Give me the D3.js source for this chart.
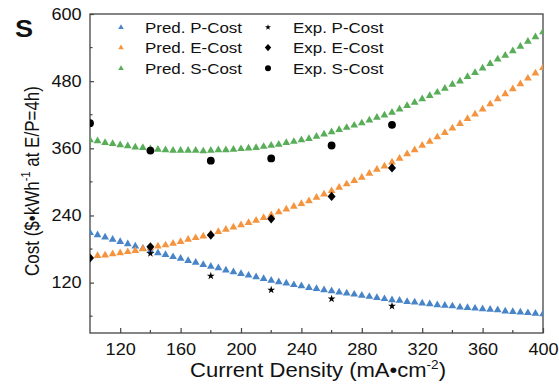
<!DOCTYPE html>
<html>
<head>
<meta charset="utf-8">
<script src="https://cdn.jsdelivr.net/npm/d3@7"></script>
<style>
  body { margin: 0; background: #fff; }
  text { font-family: "Liberation Sans", Arial, sans-serif; fill: #111; }
</style>
</head>
<body>
<div id="chart"></div>
<script>
// current density grid of the predicted curves (mA/cm2)
const density = [100,105,110,115,120,125,130,135,140,145,150,155,160,165,170,175,180,185,190,195,
  200,205,210,215,220,225,230,235,240,245,250,255,260,265,270,275,280,285,290,295,
  300,305,310,315,320,325,330,335,340,345,350,355,360,365,370,375,380,385,390,395,400];

const predP = [209,205,201,197,193,189,185,181,177,173,170,166,163,159,156,152,149,146,142,139,
  136,133,130,127,124,121,119,116,114,111,109,107,105,103,101,99,97,95,93,91,
  89,88,86,85,83,82,80,79,78,76,75,74,73,72,71,69,68,67,66,65,64];
const predE = [166,168,169,171,173,175,177,180,182,185,187,190,193,197,200,203,207,211,215,219,
  223,227,231,236,241,246,251,256,261,266,272,278,284,290,296,302,308,315,322,328,
  335,342,350,357,365,372,380,388,396,404,413,421,430,439,448,457,466,475,485,494,504];
const predS = [375,373,370,368,366,364,362,361,359,358,357,356,356,356,356,355,356,357,357,358,
  359,360,361,363,365,367,370,372,375,377,381,385,389,393,397,401,405,410,415,419,
  424,430,436,442,448,454,460,467,474,480,488,495,503,511,519,526,534,542,551,559,568];

const expDensity = [100,140,180,220,260,300];
const expP = [null,172,132,107,91,78];
const expE = [164,184,205,234,274,325];
const expS = [405,356,338,342,365,402];

const xMajor = [120,160,200,240,280,320,360,400];
const xMinor = [140,180,220,260,300,340,380];
const yMajor = [120,240,360,480,600];
const yMinor = [60,180,300,420,540];

const predNames = ["Pred. P-Cost","Pred. E-Cost","Pred. S-Cost"];
const expNames = ["Exp. P-Cost","Exp. E-Cost","Exp. S-Cost"];
const colors = ["#4884c8","#f5943e","#58ad58"];

const W = 559, H = 385, STRETCH = 1.13;
const plot = {left: 90, right: 543, top: 14, bottom: 333};

const svg = d3.select("#chart").append("svg")
    .attr("width", W).attr("height", H);

const x = d3.scaleLinear().domain([100, 400]).range([plot.left, plot.right]);
const y = d3.scaleLinear().domain([30, 600]).range([plot.bottom, plot.top]);

svg.append("clipPath").attr("id", "clip")
  .append("rect")
    .attr("x", plot.left).attr("y", plot.top)
    .attr("width", plot.right - plot.left).attr("height", plot.bottom - plot.top);

// axes (ticks point inward)
const xAxis = svg.append("g")
    .attr("transform", `translate(0,${plot.bottom})`)
    .call(d3.axisBottom(x).tickValues(xMajor).tickSize(-5).tickPadding(10.5));
xAxis.select(".domain").remove();
xAxis.selectAll(".tick line").attr("stroke", "#444").attr("stroke-width", 1.2);
xAxis.selectAll(".tick text")
    .attr("font-size", 16).attr("font-family", null).attr("fill", "#111")
    .attr("transform", `scale(${STRETCH},1)`);

xAxis.selectAll(".minor").data(xMinor).enter().append("line")
    .attr("class", "minor")
    .attr("x1", d => x(d)).attr("x2", d => x(d))
    .attr("y1", 0).attr("y2", -3)
    .attr("stroke", "#444").attr("stroke-width", 1.2);

const yAxis = svg.append("g")
    .attr("transform", `translate(${plot.left},0)`)
    .call(d3.axisLeft(y).tickValues(yMajor).tickSize(-4).tickPadding(7.5));
yAxis.select(".domain").remove();
yAxis.selectAll(".tick line").attr("stroke", "#444").attr("stroke-width", 1.2);
yAxis.selectAll(".tick text")
    .attr("font-size", 16).attr("font-family", null).attr("fill", "#111")
    .attr("transform", `scale(${STRETCH},1)`);

yAxis.selectAll(".minor").data(yMinor).enter().append("line")
    .attr("class", "minor")
    .attr("x1", 0).attr("x2", 2.5)
    .attr("y1", d => y(d)).attr("y2", d => y(d))
    .attr("stroke", "#444").attr("stroke-width", 1.2);

// frame
svg.append("rect")
    .attr("x", plot.left).attr("y", plot.top)
    .attr("width", plot.right - plot.left).attr("height", plot.bottom - plot.top)
    .attr("fill", "none").attr("stroke", "#444").attr("stroke-width", 1.3);

// markers
const triangle = d3.symbol(d3.symbolTriangle, 26);
const star = d3.symbol(d3.symbolStar, 19);
const diamond = s => `M0,${-s * 1.15}L${s},0L0,${s * 1.15}L${-s},0Z`;

const marks = svg.append("g").attr("clip-path", "url(#clip)");

[predP, predE, predS].forEach((series, i) => {
  marks.append("g").selectAll("path")
    .data(density.map((d, k) => [d, series[k]]))
    .enter().append("path")
      .attr("d", triangle())
      .attr("transform", d => `translate(${x(d[0])},${y(d[1])})`)
      .attr("fill", colors[i]);
});

const expPts = series => expDensity.map((d, k) => [d, series[k]]).filter(d => d[1] != null);

marks.append("g").selectAll("path")
  .data(expPts(expP)).enter().append("path")
    .attr("d", star())
    .attr("transform", d => `translate(${x(d[0])},${y(d[1])})`)
    .attr("fill", "#000");

marks.append("g").selectAll("path")
  .data(expPts(expE)).enter().append("path")
    .attr("d", diamond(4))
    .attr("transform", d => `translate(${x(d[0])},${y(d[1])})`)
    .attr("fill", "#000");

marks.append("g").selectAll("circle")
  .data(expPts(expS)).enter().append("circle")
    .attr("cx", d => x(d[0])).attr("cy", d => y(d[1]))
    .attr("r", 3.9)
    .attr("fill", "#000");

// legend
const rowY = [27.3, 47.6, 68.3];
const legend = svg.append("g");
predNames.forEach((name, i) => {
  legend.append("path")
    .attr("d", d3.symbol(d3.symbolTriangle, 13)())
    .attr("transform", `translate(121,${rowY[i]})`)
    .attr("fill", colors[i]);
  legend.append("text")
    .attr("transform", `translate(145,${rowY[i] + 5.4}) scale(${STRETCH},1)`)
    .attr("font-size", 15)
    .text(name);
});
const expShapes = [star.size(11)(), diamond(3.2), d3.symbol(d3.symbolCircle, 28)()];
expNames.forEach((name, i) => {
  legend.append("path")
    .attr("d", expShapes[i])
    .attr("transform", `translate(268,${rowY[i]})`)
    .attr("fill", "#000");
  legend.append("text")
    .attr("transform", `translate(293,${rowY[i] + 5.4}) scale(${STRETCH},1)`)
    .attr("font-size", 15)
    .text(name);
});

// panel letter
svg.append("text")
    .attr("transform", `translate(15,37) scale(${STRETCH},1)`)
    .attr("font-size", 24).attr("font-weight", "bold")
    .text("S");

// axis titles
const xTitle = svg.append("text")
    .attr("transform", `translate(318,376.5) scale(${STRETCH},1)`)
    .attr("text-anchor", "middle")
    .attr("font-size", 19.5);
xTitle.append("tspan").text("Current Density (mA\u2022cm");
xTitle.append("tspan").attr("font-size", 12).attr("dy", -8).text("-2");
xTitle.append("tspan").attr("dy", 8).text(")");

const yTitle = svg.append("text")
    .attr("transform", `translate(38.5,181) scale(1.22,1) rotate(-90)`)
    .attr("text-anchor", "middle")
    .attr("font-size", 17);
yTitle.append("tspan").text("Cost ($\u2022kWh");
yTitle.append("tspan").attr("font-size", 11).attr("dy", -7).text("-1");
yTitle.append("tspan").attr("dy", 7).text(" at E/P=4h)");
</script>
</body>
</html>
